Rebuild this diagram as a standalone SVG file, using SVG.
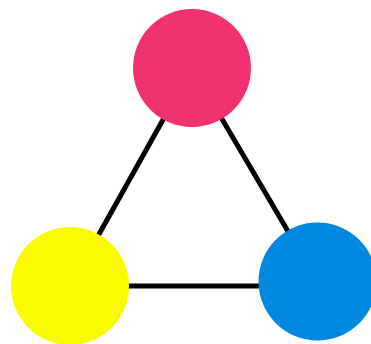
<svg xmlns="http://www.w3.org/2000/svg" width="371" height="344" viewBox="0 0 371 344">
<style>
.edge{stroke:#000;stroke-width:5;fill:none}
</style>
<rect width="371" height="344" fill="#fff"/>
<g id="connectors">
<line class="edge" x1="192" y1="68" x2="70" y2="286"/>
<line class="edge" x1="192" y1="68" x2="317.5" y2="281.5"/>
<line class="edge" x1="70" y1="286" x2="317.5" y2="286"/>
</g>
<g id="node-pink"><circle cx="192" cy="68" r="59" fill="#F0326E"/></g>
<g id="node-yellow"><circle cx="70" cy="286" r="59" fill="#FAFA00"/></g>
<g id="node-blue"><circle cx="317.5" cy="281.5" r="59" fill="#0088E0"/></g>
</svg>
